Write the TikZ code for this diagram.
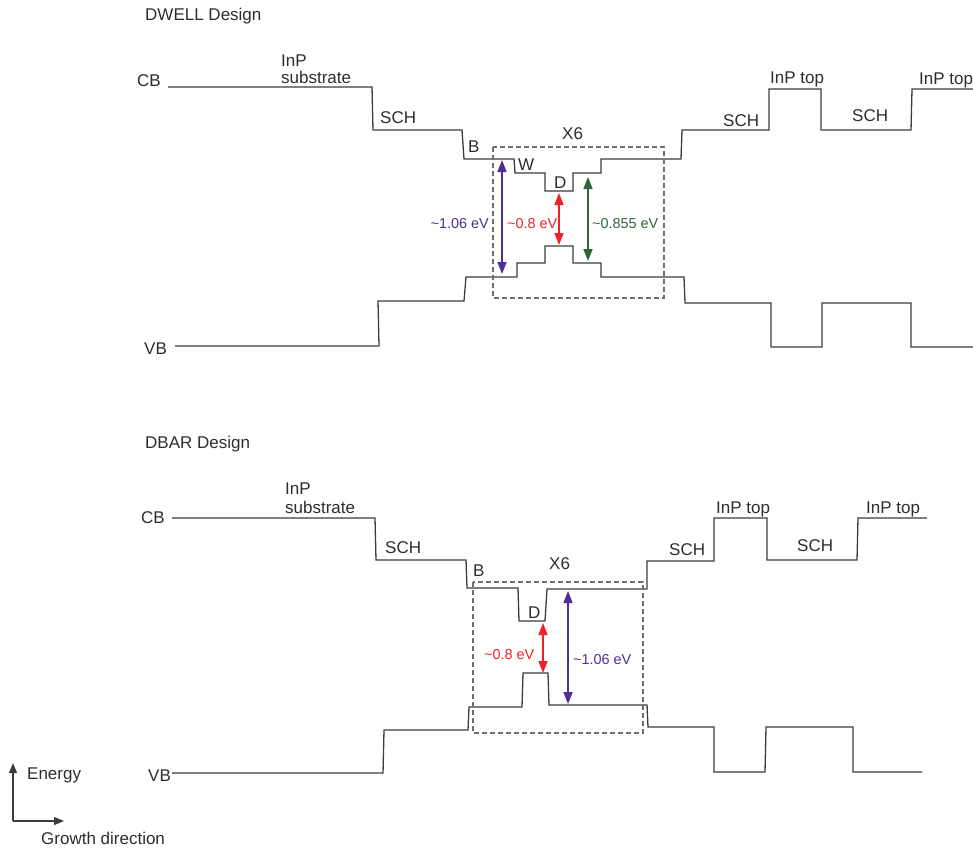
\documentclass[tikz,border=0pt]{standalone}
\usepackage{fontspec}
\setmainfont{Liberation Sans}
\usetikzlibrary{arrows.meta}
\definecolor{band}{RGB}{60,60,60}
\definecolor{txt}{RGB}{45,45,45}
\definecolor{pur}{RGB}{78,46,150}
\definecolor{redc}{RGB}{236,34,40}
\definecolor{grn}{RGB}{45,100,60}
\definecolor{boxc}{RGB}{110,110,110}
\tikzset{
  lbl/.style={anchor=base west,inner sep=0pt,text=txt,font=\fontsize{17}{20}\selectfont},
  vlbl/.style={anchor=base west,inner sep=0pt,font=\fontsize{14.4}{17}\selectfont},
  bandline/.style={draw=band,line width=1.3pt,line join=miter},
  xbox/.style={draw=boxc,line width=1.2pt,dash pattern=on 5pt off 3pt},
  garrow/.style={line width=1.6pt,{Triangle[length=12pt,width=9pt]}-{Triangle[length=12pt,width=9pt]}},
  axarrow/.style={draw=band,line width=1.2pt,-{Triangle[length=10pt,width=8pt]}}
}
\begin{document}
\begin{tikzpicture}[x=1pt,y=-1pt]
\useasboundingbox (0,0) rectangle (973,852);
% ---------- DWELL ----------
\node[lbl] (t1) at (145,20) {DWELL Design};
\node[lbl] (cb1) at (137,86) {CB};
\node[lbl] (vb1) at (144,354) {VB};
\node[lbl] (inp1) at (281,66) {InP};
\node[lbl] (sub1) at (281,83) {substrate};
\node[lbl] (sch1a) at (380,123) {SCH};
\node[lbl] (b1) at (468,152) {B};
\node[lbl] (w1) at (518,170) {W};
\node[lbl] (d1) at (554,188) {D};
\node[lbl] (x61) at (562,139) {X6};
\node[lbl] (sch1b) at (723,126) {SCH};
\node[lbl] (top1a) at (770,83) {InP top};
\node[lbl] (sch1c) at (852,121) {SCH};
\node[lbl] (top1b) at (919,84) {InP top};

\draw[bandline] (168,87) -- (372,87) -- (373,130) -- (462,130) -- (464,159) -- (514,159)
  -- (515,173) -- (545,173) -- (545,191) -- (573,191) -- (573,173) -- (601,173) -- (601,159)
  -- (681,159) -- (682,130) -- (769,130) -- (769,89) -- (821,89) -- (821,130) -- (911,130)
  -- (912,89) -- (985,89);
\draw[bandline] (175,346) -- (379,346) -- (378,301) -- (464,301) -- (466,277) -- (517,277)
  -- (517,263) -- (545,263) -- (545,246) -- (573,246) -- (573,263) -- (601,263) -- (601,277)
  -- (684,277) -- (685,303) -- (771,303) -- (771,347) -- (822,347) -- (822,303) -- (911,303)
  -- (911,347) -- (985,347);
\draw[xbox] (493,147) rectangle (664,298);

\coordinate (p1a) at (502,160); \coordinate (p1b) at (502,274);
\coordinate (r1a) at (559,193); \coordinate (r1b) at (559,245);
\coordinate (g1a) at (588,177); \coordinate (g1b) at (588,261);
\draw[garrow,draw=pur,fill=pur] (p1a) -- (p1b);
\draw[garrow,draw=redc,fill=redc] (r1a) -- (r1b);
\draw[garrow,draw=grn,fill=grn] (g1a) -- (g1b);
\node[vlbl,text=pur,anchor=base east] (e1a) at (489,228) {\textasciitilde1.06 eV};
\node[vlbl,text=redc] (e1b) at (507,228) {\textasciitilde0.8 eV};
\node[vlbl,text=grn] (e1c) at (592,228) {\textasciitilde0.855 eV};

% ---------- DBAR ----------
\node[lbl] (t2) at (145,448) {DBAR Design};
\node[lbl] (cb2) at (141,523) {CB};
\node[lbl] (vb2) at (148,781) {VB};
\node[lbl] (inp2) at (285,494) {InP};
\node[lbl] (sub2) at (285,513) {substrate};
\node[lbl] (sch2a) at (385,553) {SCH};
\node[lbl] (b2) at (473,576) {B};
\node[lbl] (x62) at (549,569) {X6};
\node[lbl] (d2) at (528,618) {D};
\node[lbl] (sch2b) at (669,555) {SCH};
\node[lbl] (top2a) at (716,513) {InP top};
\node[lbl] (sch2c) at (797,551) {SCH};
\node[lbl] (top2b) at (866,513) {InP top};

\draw[bandline] (172,518) -- (375,518) -- (376,560) -- (466,560) -- (467,588) -- (518,588)
  -- (519,621) -- (545,621) -- (547,589) -- (647,589) -- (647,561) -- (714,561) -- (714,518)
  -- (767,518) -- (767,560) -- (857,560) -- (858,518) -- (927,518);
\draw[bandline] (172,773) -- (383,773) -- (384,730) -- (468,730) -- (469,707) -- (522,707)
  -- (523,673) -- (548,673) -- (549,705) -- (647,705) -- (648,727) -- (714,727) -- (714,772)
  -- (765,772) -- (766,727) -- (853,727) -- (853,772) -- (922,772);
\draw[xbox] (473,582) rectangle (643,733);

\coordinate (r2a) at (543,623); \coordinate (r2b) at (543,673);
\coordinate (p2a) at (568,591); \coordinate (p2b) at (568,704);
\draw[garrow,draw=redc,fill=redc] (r2a) -- (r2b);
\draw[garrow,draw=pur,fill=pur] (p2a) -- (p2b);
\node[vlbl,text=redc] (e2a) at (484,659) {\textasciitilde0.8 eV};
\node[vlbl,text=pur] (e2b) at (573,664) {\textasciitilde1.06 eV};

% ---------- axes ----------
\coordinate (o) at (13,821);
\coordinate (ey) at (13,763);
\coordinate (gx) at (64,821);
\draw[axarrow] (o) -- (ey);
\draw[axarrow] (o) -- (gx);
\node[lbl] (en) at (27,779) {Energy};
\node[lbl] (gd) at (41,844) {Growth direction};
\end{tikzpicture}
\end{document}
